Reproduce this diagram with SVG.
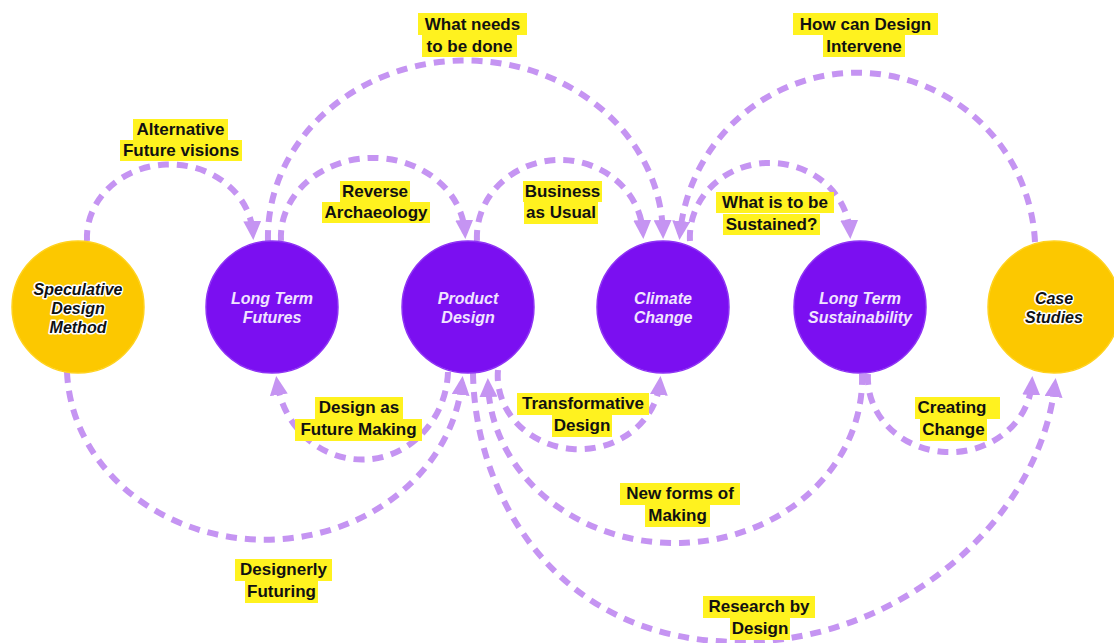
<svg xmlns="http://www.w3.org/2000/svg" width="1114" height="643" viewBox="0 0 1114 643">
  <style>
    .conn { fill: none; stroke: #C594F2; stroke-width: 6; stroke-dasharray: 11 8; marker-end: url(#arrow); }
    .hl { fill: #FFF21F; }
    .lbl { font-family: "Liberation Sans", Arial, sans-serif; font-weight: bold; font-size: 17px; fill: #111; text-anchor: middle; }
    .node-p { fill: #7B0FF1; stroke: #8E33F4; stroke-width: 1.5; }
    .node-y { fill: #FCC800; stroke: #FFD21F; stroke-width: 1.5; }
    .nt { font-family: "Liberation Sans", Arial, sans-serif; font-style: italic; font-weight: bold; font-size: 16px; text-anchor: middle; }
    .nt-p { fill: #F1E4FF; }
    .nt-y { fill: #111; stroke: #fff; stroke-width: 3; paint-order: stroke; stroke-linejoin: round; }
  </style>
  <defs>
    <marker id="arrow" viewBox="0 0 19 18" refX="13" refY="9" markerWidth="19" markerHeight="18" markerUnits="userSpaceOnUse" orient="auto">
      <path d="M0,0 L19,9 L0,18 Z" fill="#C594F2"/>
    </marker>
  </defs>
  <rect width="1114" height="643" fill="#fff"/>

  <g id="connectors">
    <path id="c-alt-future" class="conn" d="M87,241 A83,73 0 0 1 253,234"/>
    <path id="c-reverse" class="conn" d="M281,241 A92,79 0 0 1 465,233"/>
    <path id="c-what-needs" class="conn" d="M268,241 A197,176 0 0 1 663,233"/>
    <path id="c-business" class="conn" d="M477,241 A83,77 0 0 1 643,233"/>
    <path id="c-sustained" class="conn" d="M690,241 A80,74 0 0 1 850,233"/>
    <path id="c-intervene" class="conn" d="M1035,242 A178,178 0 0 0 680,234"/>
    <path id="c-designerly" class="conn" d="M67,372 A198,174 0 0 0 462,382"/>
    <path id="c-future-making" class="conn" d="M448,372 A86,91 0 0 1 277,382"/>
    <path id="c-transformative" class="conn" d="M498,370 A81,73 0 0 0 660,382"/>
    <path id="c-new-forms" class="conn" d="M862,374 A187,164 0 0 1 488,384"/>
    <path id="c-creating" class="conn" d="M868,374 A82,74 0 0 0 1032,382"/>
    <path id="c-research" class="conn" d="M473,373 C475,500 560,642 740,642 C900,642 1040,520 1055,384"/>
  </g>

  <g id="node-speculative">
    <circle class="node-y" cx="78" cy="307" r="66"/>
    <text class="nt nt-y" x="78" y="295">Speculative</text>
    <text class="nt nt-y" x="78" y="314">Design</text>
    <text class="nt nt-y" x="78" y="333">Method</text>
  </g>
  <g id="node-long-term-futures">
    <circle class="node-p" cx="272" cy="307" r="66"/>
    <text class="nt nt-p" x="272" y="304">Long Term</text>
    <text class="nt nt-p" x="272" y="323">Futures</text>
  </g>
  <g id="node-product-design">
    <circle class="node-p" cx="468" cy="307" r="66"/>
    <text class="nt nt-p" x="468" y="304">Product</text>
    <text class="nt nt-p" x="468" y="323">Design</text>
  </g>
  <g id="node-climate-change">
    <circle class="node-p" cx="663" cy="307" r="66"/>
    <text class="nt nt-p" x="663" y="304">Climate</text>
    <text class="nt nt-p" x="663" y="323">Change</text>
  </g>
  <g id="node-long-term-sustainability">
    <circle class="node-p" cx="860" cy="307" r="66"/>
    <text class="nt nt-p" x="860" y="304">Long Term</text>
    <text class="nt nt-p" x="860" y="323">Sustainability</text>
  </g>
  <g id="node-case-studies">
    <circle class="node-y" cx="1054" cy="307" r="66"/>
    <text class="nt nt-y" x="1054" y="304">Case</text>
    <text class="nt nt-y" x="1054" y="323">Studies</text>
  </g>

  <g id="labels">
    <g id="label-what-needs">
      <rect class="hl" x="418" y="13" width="109" height="22"/>
      <rect class="hl" x="422" y="35" width="95" height="22"/>
      <text class="lbl" x="472.5" y="29.5">What needs</text>
      <text class="lbl" x="469.5" y="51.5">to be done</text>
    </g>
    <g id="label-intervene">
      <rect class="hl" x="793" y="13" width="145" height="22"/>
      <rect class="hl" x="823" y="35" width="82" height="22"/>
      <text class="lbl" x="865.5" y="29.5">How can Design</text>
      <text class="lbl" x="864" y="51.5">Intervene</text>
    </g>
    <g id="label-alternative">
      <rect class="hl" x="133" y="119" width="95" height="21"/>
      <rect class="hl" x="120" y="140" width="122" height="21"/>
      <text class="lbl" x="180.5" y="135">Alternative</text>
      <text class="lbl" x="181" y="156">Future visions</text>
    </g>
    <g id="label-reverse">
      <rect class="hl" x="340" y="181" width="70" height="21"/>
      <rect class="hl" x="322" y="202" width="108" height="21"/>
      <text class="lbl" x="375" y="197">Reverse</text>
      <text class="lbl" x="376" y="218">Archaeology</text>
    </g>
    <g id="label-business">
      <rect class="hl" x="523" y="181" width="79" height="21"/>
      <rect class="hl" x="524" y="202" width="74" height="22"/>
      <text class="lbl" x="562.5" y="197">Business</text>
      <text class="lbl" x="561" y="218">as Usual</text>
    </g>
    <g id="label-sustained">
      <rect class="hl" x="716" y="192" width="118" height="21"/>
      <rect class="hl" x="723" y="214" width="97" height="21"/>
      <text class="lbl" x="775" y="208">What is to be</text>
      <text class="lbl" x="771.5" y="230">Sustained?</text>
    </g>
    <g id="label-future-making">
      <rect class="hl" x="315" y="397" width="88" height="22"/>
      <rect class="hl" x="295" y="419" width="127" height="22"/>
      <text class="lbl" x="359" y="413">Design as</text>
      <text class="lbl" x="358.5" y="435">Future Making</text>
    </g>
    <g id="label-transformative">
      <rect class="hl" x="517" y="393" width="132" height="22"/>
      <rect class="hl" x="552" y="415" width="60" height="22"/>
      <text class="lbl" x="583" y="409">Transformative</text>
      <text class="lbl" x="582" y="431">Design</text>
    </g>
    <g id="label-creating">
      <rect class="hl" x="915" y="397" width="85" height="22"/>
      <rect class="hl" x="920" y="419" width="67" height="22"/>
      <text class="lbl" x="952" y="413">Creating</text>
      <text class="lbl" x="953.5" y="435">Change</text>
    </g>
    <g id="label-new-forms">
      <rect class="hl" x="620" y="483" width="120" height="22"/>
      <rect class="hl" x="645" y="505" width="65" height="22"/>
      <text class="lbl" x="680" y="499">New forms of</text>
      <text class="lbl" x="677.5" y="521">Making</text>
    </g>
    <g id="label-designerly">
      <rect class="hl" x="235" y="559" width="97" height="22"/>
      <rect class="hl" x="245" y="581" width="73" height="22"/>
      <text class="lbl" x="283.5" y="575">Designerly</text>
      <text class="lbl" x="281.5" y="597">Futuring</text>
    </g>
    <g id="label-research">
      <rect class="hl" x="703" y="596" width="112" height="22"/>
      <rect class="hl" x="730" y="618" width="60" height="22"/>
      <text class="lbl" x="759" y="612">Research by</text>
      <text class="lbl" x="760" y="634">Design</text>
    </g>
  </g>
</svg>
